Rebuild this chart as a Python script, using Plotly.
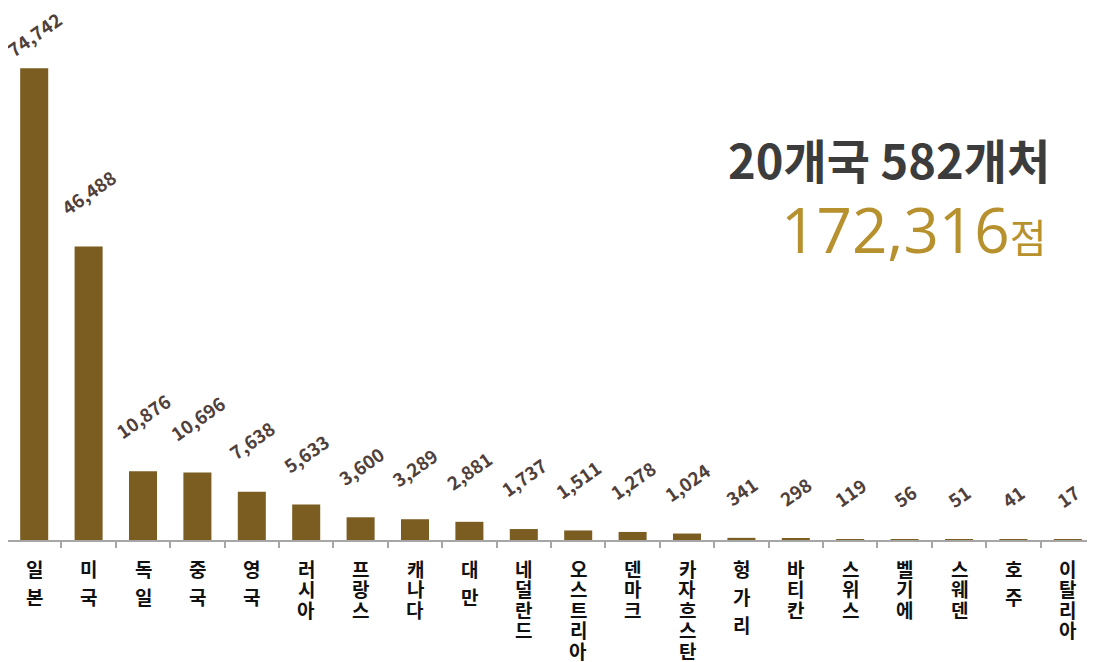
import plotly.graph_objects as go

countries = ["일본", "미국", "독일", "중국", "영국", "러시아", "프랑스", "캐나다", "대만", "네덜란드",
             "오스트리아", "덴마크", "카자흐스탄", "헝가리", "바티칸", "스위스", "벨기에", "스웨덴", "호주", "이탈리아"]
counts = [74742, 46488, 10876, 10696, 7638, 5633, 3600, 3289, 2881, 1737,
          1511, 1278, 1024, 341, 298, 119, 56, 51, 41, 17]
# labels whose characters are set with wider line spacing in the original
spaced_labels = ["일본", "미국", "독일", "중국", "영국", "대만", "호주", "헝가리"]
headline = "20개국 582개처"
total_text = "172,316"
total_unit = "점"

BAR = "#7B5C21"
LABEL = "#4F403B"
FONT = "Noto Sans CJK KR"

# the page body adds an 8px offset; layout values below compensate for it
OFF = 8
W, H = 1095, 662
PLOT_LEFT, PLOT_RIGHT, PLOT_TOP, BASE = 7, 1095, 35, 540   # target page pixels
ML, MR = 0, OFF
MT = PLOT_TOP - OFF
ph = BASE - PLOT_TOP
MB = H - MT - ph
pw = W - ML - MR
n = len(countries)
pitch = (PLOT_RIGHT - PLOT_LEFT) / n
x_start = -0.5 + (ML + OFF - PLOT_LEFT) / pitch
x_end = x_start + pw / pitch
YMAX = 80000
scale = ph / YMAX

fig = go.Figure()
fig.add_trace(go.Bar(
    x=countries, y=counts, marker=dict(color=BAR, line=dict(width=0)),
    cliponaxis=False, hoverinfo="skip",
))

annotations = []
# value labels (kept inside the top of the chart like the original)
for c, v in zip(countries, counts):
    bar_top_px = PLOT_TOP + ph - v * scale
    shift = min(24, bar_top_px - 11 - 54)
    annotations.append(dict(
        x=c, y=v, xref="x", yref="y", text=f"{v:,}", showarrow=False,
        textangle=-35, xanchor="center", yanchor="bottom", yshift=shift,
        font=dict(family=FONT, size=18.5, color=LABEL, weight="bold"),
    ))

# vertical category labels, one character per line
for c in countries:
    step = 28 if c in spaced_labels else 20.5
    for i, ch in enumerate(c):
        annotations.append(dict(
            x=c, y=0, xref="x", yref="paper", text=ch, showarrow=False,
            xanchor="center", yanchor="middle", yshift=-(28 + i * step),
            font=dict(family=FONT, size=19, color="#111111", weight="bold"),
        ))

def px_to_paper(xp, yp):
    fx, fy = xp - OFF, yp - OFF
    return (fx - ML) / pw, 1 - (fy - MT) / ph

hx, hy = px_to_paper(1052, 158)
annotations.append(dict(
    x=hx, y=hy, xref="paper", yref="paper", text=headline, showarrow=False,
    xanchor="right", yanchor="middle",
    font=dict(family=FONT, size=47, color="#3C3C3C", weight="bold"),
))
tx, ty = px_to_paper(1049, 229)
annotations.append(dict(
    x=tx, y=ty, xref="paper", yref="paper",
    text=f"{total_text}<span style='font-family:\"Noto Sans CJK KR\";font-size:40px'>{total_unit}</span>",
    showarrow=False, xanchor="right", yanchor="middle",
    font=dict(family="Open Sans", size=62, color="#B8912F"),
))

fig.update_layout(
    width=W, height=H, autosize=False,
    margin=dict(l=ML, r=MR, t=MT, b=MB, pad=0),
    paper_bgcolor="white", plot_bgcolor="white",
    bargap=0.485, showlegend=False,
    annotations=annotations,
    xaxis=dict(
        type="category", tickmode="array", tickvals=countries, range=[x_start, x_end],
        tickson="boundaries", ticks="outside", ticklen=6, tickwidth=2, tickcolor="#A6A6A6",
        showline=True, linecolor="#A6A6A6", linewidth=2, showgrid=False,
        showticklabels=False, automargin=False, fixedrange=True,
    ),
    yaxis=dict(range=[0, YMAX], visible=False, showgrid=False, zeroline=False,
               automargin=False, fixedrange=True),
)

fig.write_html("out.html")
